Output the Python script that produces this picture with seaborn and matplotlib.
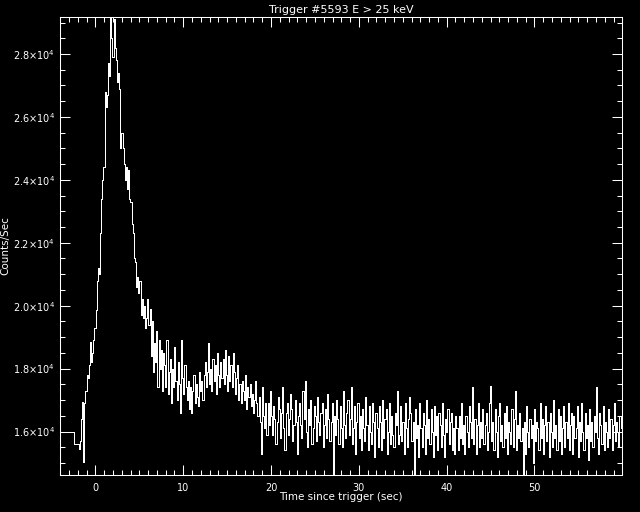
import numpy as np
import matplotlib
matplotlib.use("Agg")
import matplotlib.pyplot as plt
import seaborn as sns
from matplotlib.ticker import MultipleLocator, FixedLocator, FixedFormatter

# ---------------- data ----------------
title = "Trigger #5593 E > 25 keV"
xlabel = "Time since trigger (sec)"
ylabel = "Counts/Sec"

# coarse pre-trigger bins (left edges, counts/s)
pre_edges = [-4.0, -2.48]
pre_counts = [16000, 15590]

# fine bins after -1.9 s
fine_start = -1.9
fine_width = 0.128
fine_counts = [
    15450, 15700, 16400, 16950, 15020, 16900, 17300, 17800,
    17700, 18100, 18840, 18200, 18500, 18900, 19300, 19860,
    20800, 21200, 21000, 22300, 23400, 24000, 24400, 26800,
    26300, 26700, 27700, 27300, 29150, 28500, 27900, 29100,
    28200, 27800, 27100, 27400, 26900, 25000, 25500, 25000,
    24500, 24000, 24400, 23700, 24300, 23400, 23300, 22600,
    22300, 21500, 21400, 20600, 20900, 20400, 20800, 19700,
    20200, 19600, 20000, 19300, 19600, 20200, 19400, 19900,
    18400, 19500, 17900, 18800, 18200, 19200, 17400, 18900,
    18000, 18600, 17300, 18500, 18100, 17400, 18900, 17200,
    17900, 18300, 16900, 18000, 17400, 18700, 17600, 17000,
    18200, 17500, 16600, 18900, 17700, 17200, 18100, 17400,
    17000, 17600, 16700, 17400, 16600, 17300, 17800, 16900,
    17500, 17100, 16800, 17900, 17300, 17600, 17000, 17800,
    18200, 17400, 17900, 18800, 17500, 18000, 17300, 18300,
    17600, 18100, 17200, 18500, 17800, 17400, 18200, 17700,
    18300, 17500, 18600, 17800, 17300, 18400, 17600, 18100,
    17400, 18500, 17900, 17200, 17700, 18100, 17000, 17500,
    16900, 17600, 17300, 17000, 17800, 16700, 17400, 17100,
    17500, 16800, 17200, 16600, 17000, 17600, 16900, 16500,
    17100, 16300, 15300, 17400, 16500, 16100, 16900, 15900,
    16900, 16200, 17300, 16500, 15900, 16800, 16400, 15600,
    16300, 17100, 16700, 15800, 16600, 17400, 16100, 15400,
    16600, 16900, 15900, 16400, 17200, 16700, 15700, 16200,
    17000, 16300, 15300, 16500, 16900, 16200, 15800, 17300,
    16400, 17600, 16000, 15500, 16700, 16200, 17000, 15600,
    16100, 16800, 16500, 15700, 17100, 16300, 15900, 16600,
    16900, 15500, 16200, 16700, 15800, 17200, 16400, 15700,
    16300, 16900, 14650, 16500, 15900, 17000, 16400, 15600,
    16800, 16100, 15500, 17300, 16200, 15800, 16600, 17000,
    15900, 16400, 17400, 15600, 16100, 16800, 15300, 16300,
    16900, 15800, 16500, 15400, 16700, 16100, 15700, 17100,
    16200, 15400, 16800, 16000, 15600, 16900, 16300, 15200,
    16600, 16100, 15500, 16800, 16300, 15400, 17000, 15800,
    16400, 16700, 15300, 16000, 16900, 15600, 16500, 15900,
    15500, 16600, 16200, 17300, 15600, 15900, 16800, 15700,
    16300, 15300, 16900, 16100, 15500, 16400, 17100, 16600,
    15700, 16300, 14650, 16700, 15800, 16200, 15200, 16900,
    16100, 15500, 16600, 16200, 15300, 17000, 15800, 16400,
    15600, 16700, 16000, 15200, 16800, 15900, 16500, 15400,
    16600, 16200, 15500, 16900, 15900, 15200, 16400, 16000,
    16700, 15600, 16300, 16600, 15400, 16100, 15300, 16500,
    16100, 15400, 16500, 15800, 16900, 15600, 16200, 15300,
    16500, 16000, 15500, 16800, 16300, 15800, 17400, 15600,
    16400, 15300, 16200, 16900, 15500, 16300, 15800, 16700,
    15600, 16200, 16600, 15400, 16000, 16900, 17450, 15700,
    16300, 15400, 16700, 16000, 15200, 16500, 16900, 15700,
    16200, 15500, 16600, 15800, 16800, 15300, 16300, 16000,
    15600, 16700, 15500, 16400, 17300, 15400, 16200, 15800,
    16600, 15700, 16100, 14650, 16300, 15300, 16800, 16000,
    15500, 16400, 15800, 16200, 15000, 16700, 15700, 16300,
    16100, 15400, 16900, 15800, 16400, 15300, 16200, 16800,
    15700, 16300, 15200, 16600, 16000, 15500, 17000, 15800,
    16200, 15400, 16700, 15700, 16500, 15300, 16100, 16800,
    15500, 16300, 15800, 16900, 15400, 16200, 16600, 15300,
    16500, 15800, 16100, 16800, 15200, 16300, 15700, 16900,
    16000, 15400, 16600, 15800, 16200, 15100, 16700, 15700,
    16300, 15500, 16500, 16000, 17400, 15800, 15300, 16600,
    16200, 15600, 16800, 15400, 16300, 16000, 15500, 16700,
    15800, 16400, 15400, 16200, 16900, 15700, 16300, 16000,
    15500, 16500, 16100, 15800,
]

xlim = (-4.0, 60.0)
ylim = (14627, 29167)
xticks = [0, 10, 20, 30, 40, 50]
xtick_labels = ["0", "10", "20", "30", "40", "50"]
yticks = [16000, 18000, 20000, 22000, 24000, 26000, 28000]
ytick_labels = ["1.6×10$^{4}$", "1.8×10$^{4}$", "2.0×10$^{4}$", "2.2×10$^{4}$",
                "2.4×10$^{4}$", "2.6×10$^{4}$", "2.8×10$^{4}$"]

# ---------------- build series ----------------
fine_edges = fine_start + fine_width * np.arange(len(fine_counts))
x = np.concatenate([pre_edges, fine_edges, [fine_edges[-1] + fine_width]])
y = np.concatenate([pre_counts, fine_counts, [fine_counts[-1]]]).astype(float)

# ---------------- plot ----------------
plt.rcParams["font.family"] = ["DejaVu Sans"]
plt.rcParams["mathtext.fontset"] = "dejavusans"

W, H = 640, 512
fig = plt.figure(figsize=(6.4, 5.12), dpi=100, facecolor="black")
L, R, T, B = 60.3, 622.3, 17.3, 474.7
ax = fig.add_axes([L / W, 1 - B / H, (R - L) / W, (B - T) / H])
ax.set_facecolor("black")

sns.lineplot(x=x, y=y, ax=ax, drawstyle="steps-post", color="white",
             linewidth=0.72, estimator=None, sort=False, antialiased=False)

ax.set_xlim(*xlim)
ax.set_ylim(*ylim)
ax.set_xlabel("")
ax.set_ylabel("")

ax.xaxis.set_major_locator(FixedLocator(xticks))
ax.xaxis.set_major_formatter(FixedFormatter(xtick_labels))
ax.xaxis.set_minor_locator(MultipleLocator(1))
ax.yaxis.set_major_locator(FixedLocator(yticks))
ax.yaxis.set_major_formatter(FixedFormatter(ytick_labels))
ax.yaxis.set_minor_locator(MultipleLocator(500))

for s in ax.spines.values():
    s.set_color("white")
    s.set_linewidth(0.75)

ax.tick_params(which="both", direction="in", top=True, right=True,
               colors="white", width=0.75, labelsize=7)
ax.tick_params(which="major", length=7.3)
ax.tick_params(which="minor", length=3.6)
ax.tick_params(axis="x", which="major", pad=6)
ax.tick_params(axis="y", which="major", pad=4)

fig.text((L + R) / 2 / W, 1 - 10 / H, title, color="white", fontsize=8,
         ha="center", va="center")
fig.text((L + R) / 2 / W, 1 - 497.5 / H, xlabel, color="white", fontsize=7.5,
         ha="center", va="center")
fig.text(5.5 / W, 1 - ((T + B) / 2) / H, ylabel, color="white", fontsize=7.5,
         ha="center", va="center", rotation=90)

fig.savefig("out.png", dpi=100, facecolor="black")
